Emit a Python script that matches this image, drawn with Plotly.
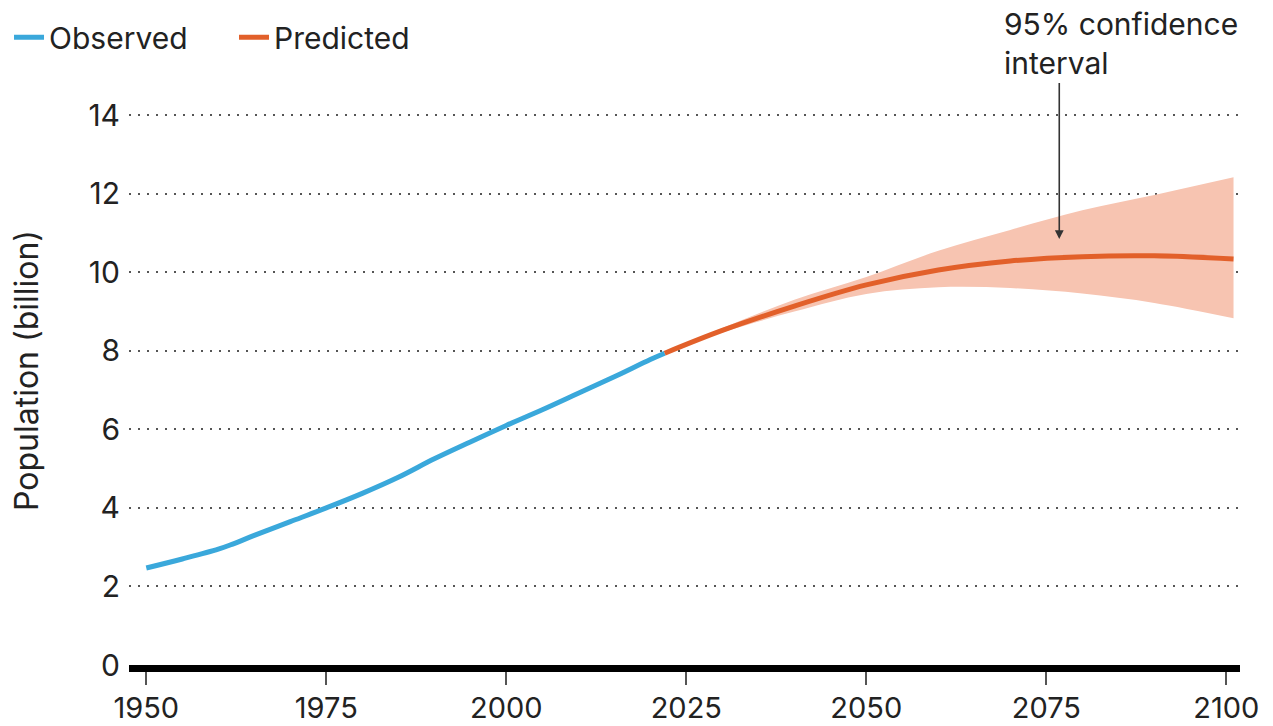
import plotly.graph_objects as go

# World population, billions
obs_years = [1950, 1955, 1960, 1962, 1965, 1970, 1975, 1980, 1985, 1990,
             1995, 2000, 2005, 2010, 2015, 2020, 2022]
obs_pop = [2.47, 2.70, 2.95, 3.08, 3.30, 3.65, 4.00, 4.37, 4.78, 5.25,
           5.68, 6.10, 6.50, 6.92, 7.34, 7.78, 7.94]

pred_years = [2022, 2030, 2040, 2050, 2060, 2070, 2080, 2090, 2101]
pred_pop = [7.94, 8.52, 9.14, 9.68, 10.06, 10.29, 10.40, 10.42, 10.34]
ci_upper = [7.94, 8.58, 9.30, 9.88, 10.55, 11.08, 11.58, 11.97, 12.42]
ci_lower = [7.94, 8.47, 9.00, 9.45, 9.62, 9.60, 9.46, 9.22, 8.83]

x_ticks = [1950, 1975, 2000, 2025, 2050, 2075, 2100]
y_ticks = [0, 2, 4, 6, 8, 10, 12, 14]

BLUE = "#3AA8DB"
ORANGE = "#E2602A"
BAND = "#F7C4B1"
FONT = "Inter"
FS = 30

fig = go.Figure()

# confidence band: lower edge, then upper edge filled down to it
fig.add_trace(go.Scatter(
    x=pred_years, y=ci_lower, mode="lines",
    line=dict(width=0, shape="spline", color=BAND),
    hoverinfo="skip", showlegend=False,
))
fig.add_trace(go.Scatter(
    x=pred_years, y=ci_upper, mode="lines", fill="tonexty", fillcolor=BAND,
    line=dict(width=0, shape="spline", color=BAND),
    hoverinfo="skip", showlegend=False,
))

fig.add_trace(go.Scatter(
    x=obs_years, y=obs_pop, mode="lines", name="Observed",
    line=dict(color=BLUE, width=5, shape="spline"),
))
fig.add_trace(go.Scatter(
    x=pred_years, y=pred_pop, mode="lines", name="Predicted",
    line=dict(color=ORANGE, width=5, shape="spline"),
))

fig.add_annotation(
    text="95% confidence<br>interval", xref="paper", yref="paper",
    x=0.786, y=1.122, xanchor="left", yanchor="top", align="left",
    showarrow=False, font=dict(family=FONT, size=FS, color="#222"),
)
fig.add_annotation(
    x=2076.8, y=10.85, xref="x", yref="y", text=" ",
    font=dict(size=1),
    showarrow=True, arrowhead=2, arrowsize=1.1, arrowwidth=1.6,
    arrowcolor="#333", ax=0, ay=-158, standoff=0,
)

fig.update_layout(
    width=1273, height=726,
    margin=dict(l=129, r=33, t=76, b=61, autoexpand=False),
    paper_bgcolor="white", plot_bgcolor="white",
    font=dict(family=FONT, size=FS, color="#222"),
    showlegend=True,
    legend=dict(
        orientation="h", x=-0.108, y=1.066, xanchor="left", yanchor="middle",
        font=dict(family=FONT, size=FS, color="#222"),
        traceorder="normal",
        itemwidth=30, entrywidth=180, tracegroupgap=0,
        bgcolor="rgba(0,0,0,0)",
    ),
    xaxis=dict(
        range=[1947.6, 2101.9], tickvals=x_ticks, showgrid=False,
        showline=True, linecolor="black", linewidth=7,
        ticks="outside", ticklen=13, tickwidth=2, tickcolor="#555",
        zeroline=False, tickfont=dict(size=29), ticklabelstandoff=-2,
    ),
    yaxis=dict(
        range=[0, 15], tickvals=y_ticks, showgrid=True,
        gridcolor="#555", gridwidth=1.8, griddash="2px,7px",
        zeroline=False, showline=False, ticks="", ticklabelstandoff=8,
        title=dict(text="Population (billion)", standoff=40,
                   font=dict(size=32)),
        tickfont=dict(size=FS),
    ),
)

fig.write_html("out.html")
